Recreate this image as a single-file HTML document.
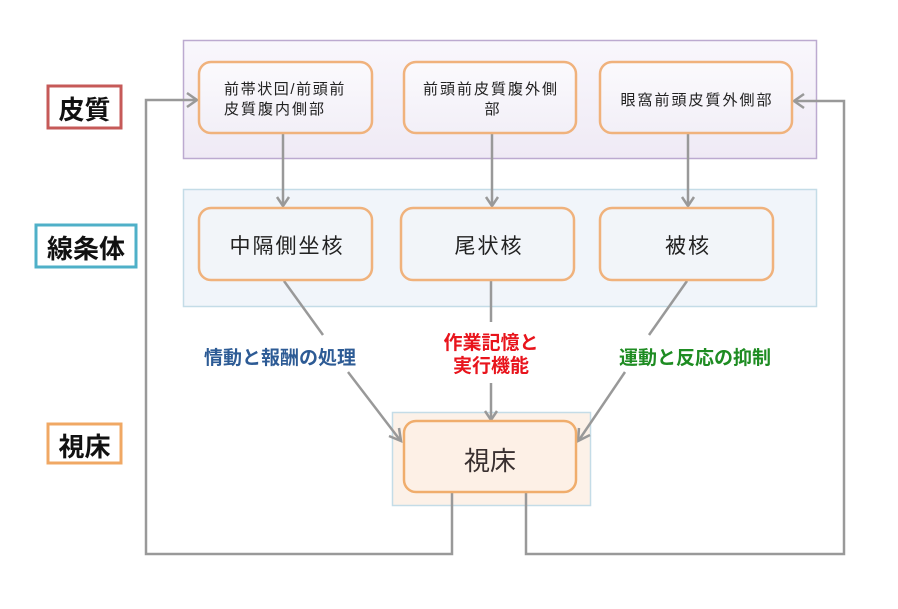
<!DOCTYPE html>
<html>
<head>
<meta charset="utf-8">
<style>
html,body{margin:0;padding:0;background:#fff;}
svg{display:block;}
text{font-family:"Liberation Sans","Noto Sans CJK JP",sans-serif;}
</style>
</head>
<body>
<svg width="898" height="609" viewBox="0 0 898 609" xmlns="http://www.w3.org/2000/svg">
<defs>
<linearGradient id="gCortex" x1="0" y1="0" x2="0" y2="1">
<stop offset="0" stop-color="#f9f7fc"/>
<stop offset="1" stop-color="#efeaf5"/>
</linearGradient>
<linearGradient id="gBoxC" x1="0" y1="0" x2="0" y2="1">
<stop offset="0" stop-color="#fbfafd"/>
<stop offset="1" stop-color="#f2eff7"/>
</linearGradient>
</defs>
<rect width="898" height="609" fill="#fff"/>

<!-- containers -->
<rect x="183.5" y="40.5" width="633" height="118" fill="url(#gCortex)" stroke="#bcaad0" stroke-width="1.5"/>
<rect x="183.5" y="189.5" width="633" height="117" fill="#f1f5fa" stroke="#c4dce7" stroke-width="1.5"/>
<rect x="392.5" y="412.5" width="198" height="93" fill="#fcf1e8" stroke="#c4dce7" stroke-width="1.5"/>

<!-- left labels -->
<rect x="48" y="86" width="73" height="42" fill="#fff" stroke="#c65a58" stroke-width="3"/>
<text x="84.5" y="119" font-size="26" font-weight="bold" text-anchor="middle" fill="#111">皮質</text>
<rect x="36" y="225" width="100" height="42" fill="#fff" stroke="#4fb0c8" stroke-width="3"/>
<text x="86" y="258" font-size="26" font-weight="bold" text-anchor="middle" fill="#111">線条体</text>
<rect x="48" y="424" width="73" height="39" fill="#fff" stroke="#f0a864" stroke-width="3"/>
<text x="84.5" y="456" font-size="26" font-weight="bold" text-anchor="middle" fill="#111">視床</text>

<!-- feedback connectors -->
<polyline points="452,493 452,554 146,554 146,100 196,100" fill="none" stroke="#999" stroke-width="2.5"/>
<polyline points="187,93 197,100 187,107" fill="none" stroke="#999" stroke-width="2.5"/>
<polyline points="526,493 526,554 844,554 844,101 795,101" fill="none" stroke="#999" stroke-width="2.5"/>
<polyline points="804,94 794,101 804,108" fill="none" stroke="#999" stroke-width="2.5"/>

<!-- vertical arrows cortex -> striatum -->
<line x1="283" y1="134" x2="283" y2="205" stroke="#999" stroke-width="2.5"/>
<polyline points="277,197 283,206 289,197" fill="none" stroke="#999" stroke-width="2.5"/>
<line x1="492" y1="134" x2="492" y2="205" stroke="#999" stroke-width="2.5"/>
<polyline points="486,197 492,206 498,197" fill="none" stroke="#999" stroke-width="2.5"/>
<line x1="688" y1="134" x2="688" y2="205" stroke="#999" stroke-width="2.5"/>
<polyline points="682,197 688,206 694,197" fill="none" stroke="#999" stroke-width="2.5"/>

<!-- striatum -> thalamus -->
<line x1="284" y1="281" x2="323" y2="335" stroke="#999" stroke-width="2.5"/>
<line x1="348" y1="372" x2="400" y2="440" stroke="#999" stroke-width="2.5"/>
<polyline points="389,436 401,441 399,428" fill="none" stroke="#999" stroke-width="2.5"/>

<line x1="491" y1="281" x2="491" y2="322" stroke="#999" stroke-width="2.5"/>
<line x1="491" y1="383" x2="491" y2="419" stroke="#999" stroke-width="2.5"/>
<polyline points="485,411 491,420 497,411" fill="none" stroke="#999" stroke-width="2.5"/>

<line x1="687" y1="281" x2="649" y2="335" stroke="#999" stroke-width="2.5"/>
<line x1="625" y1="372" x2="579" y2="440" stroke="#999" stroke-width="2.5"/>
<polyline points="579,428 578,441 590,435" fill="none" stroke="#999" stroke-width="2.5"/>

<!-- cortex boxes -->
<rect x="199" y="62" width="173" height="71" rx="12" fill="url(#gBoxC)" stroke="#f0b27c" stroke-width="2.5"/>
<text x="224" y="94" font-size="15" letter-spacing="1.6" fill="#222">前帯状回/前頭前</text>
<text x="224" y="114" font-size="15" letter-spacing="2" fill="#222">皮質腹内側部</text>

<rect x="404" y="62" width="172" height="71" rx="12" fill="url(#gBoxC)" stroke="#f0b27c" stroke-width="2.5"/>
<text x="491" y="94" font-size="15" letter-spacing="2" text-anchor="middle" fill="#222">前頭前皮質腹外側</text>
<text x="492" y="114" font-size="15" text-anchor="middle" fill="#222">部</text>

<rect x="600" y="62" width="192" height="71" rx="12" fill="url(#gBoxC)" stroke="#f0b27c" stroke-width="2.5"/>
<text x="697" y="105" font-size="15" letter-spacing="2" text-anchor="middle" fill="#222">眼窩前頭皮質外側部</text>

<!-- striatum boxes -->
<rect x="199" y="208" width="173" height="72" rx="12" fill="#f2f5f9" stroke="#f0b27c" stroke-width="2.5"/>
<text x="287" y="253" font-size="21" letter-spacing="2" text-anchor="middle" fill="#222">中隔側坐核</text>
<rect x="401" y="208" width="173" height="72" rx="12" fill="#f2f5f9" stroke="#f0b27c" stroke-width="2.5"/>
<text x="489" y="253" font-size="21" letter-spacing="2" text-anchor="middle" fill="#222">尾状核</text>
<rect x="600" y="208" width="173" height="72" rx="12" fill="#f2f5f9" stroke="#f0b27c" stroke-width="2.5"/>
<text x="688" y="253" font-size="21" letter-spacing="2" text-anchor="middle" fill="#222">被核</text>

<!-- thalamus box -->
<rect x="404" y="421" width="172" height="71" rx="12" fill="#fdf0e6" stroke="#f0ad6c" stroke-width="2.5"/>
<text x="490" y="470" font-size="26" text-anchor="middle" fill="#3a3030">視床</text>

<!-- function labels -->
<text x="280" y="364" font-size="19" font-weight="bold" text-anchor="middle" fill="#2d5b95">情動と報酬の処理</text>
<text x="491" y="349" font-size="19" font-weight="bold" text-anchor="middle" fill="#e8141c">作業記憶と</text>
<text x="491" y="372" font-size="19" font-weight="bold" text-anchor="middle" fill="#e8141c">実行機能</text>
<text x="695" y="364" font-size="19" font-weight="bold" text-anchor="middle" fill="#1e8c22">運動と反応の抑制</text>
</svg>
</body>
</html>
